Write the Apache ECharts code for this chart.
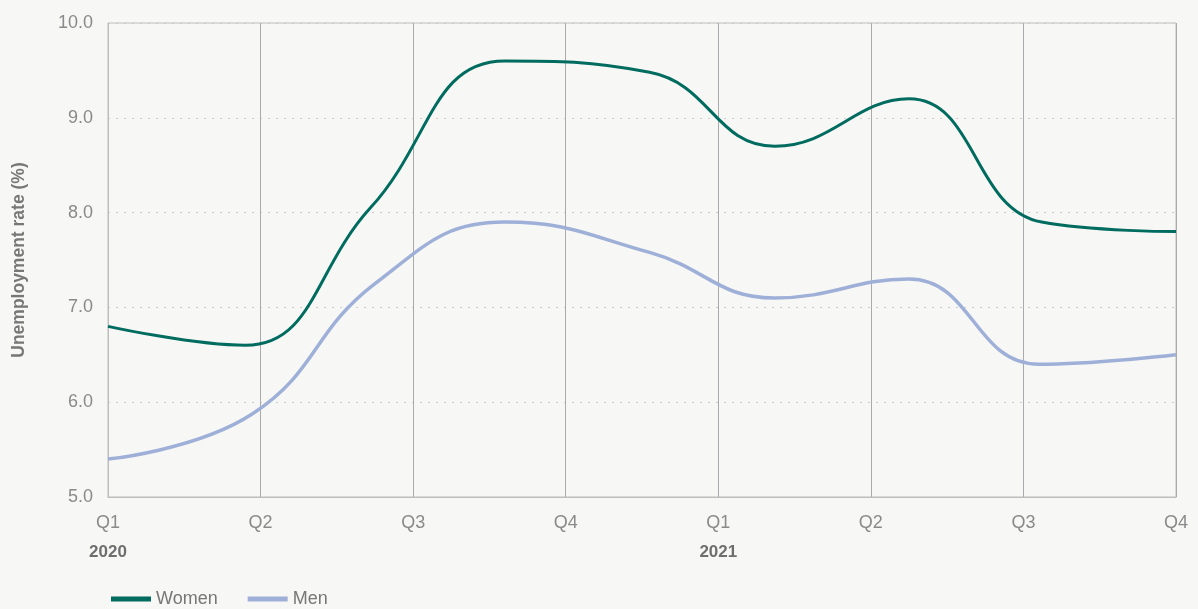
<!DOCTYPE html>
<html><head><meta charset="utf-8">
<script src="https://cdn.jsdelivr.net/npm/echarts@6/dist/echarts.min.js"></script>
<style>html,body{margin:0;padding:0;background:#f7f7f5;}#c{width:1198px;height:609px;}</style>
</head><body><div id="c"></div>
<script>
const quarterLabels = ['Q1','Q2','Q3','Q4','Q1','Q2','Q3','Q4'];
const yearLabels = ['2020','','','','2021','','',''];
// x in quarters from Q1 2020
const womenX = [0, 0.9, 1.72, 2.6, 3.55, 4.37, 5.25, 6.12, 7.0];
const womenY = [6.8, 6.6, 8.05, 9.6, 9.48, 8.7, 9.2, 7.9, 7.8];
const menX = [0, 0.95, 1.75, 2.6, 3.55, 4.37, 5.25, 6.1, 7.0];
const menY = [5.4, 5.88, 7.25, 7.9, 7.58, 7.1, 7.3, 6.4, 6.5];

const chart = echarts.init(document.getElementById('c'));
const font = 'Liberation Sans, Arial, sans-serif';
chart.setOption({
  backgroundColor: '#f7f7f5',
  animation: false,
  textStyle: { fontFamily: font },
  grid: { left: 108, right: 22, top: 23, bottom: 112, show: true, borderColor: '#bdbdbd', borderWidth: 1, backgroundColor: 'transparent' },
  legend: {
    left: 106, bottom: -4, itemWidth: 40, itemHeight: 5, itemGap: 30, icon: 'rect',
    textStyle: { color: '#777', fontSize: 18, fontFamily: font },
    data: ['Women', 'Men']
  },
  xAxis: {
    type: 'value', min: 0, max: 7, interval: 1,
    axisLine: { show: true, lineStyle: { color: '#bdbdbd' } },
    axisTick: { show: false },
    splitLine: { show: true, lineStyle: { color: '#aaaaaa', width: 1 } },
    axisLabel: {
      margin: 12,
      formatter: function (v) {
        const i = Math.round(v);
        const q = quarterLabels[i] || '';
        const y = yearLabels[i];
        return '{q|' + q + '}\n{y|' + (y || ' ') + '}';
      },
      rich: {
        q: { color: '#8a8a8a', fontSize: 18, fontFamily: font, lineHeight: 29 },
        y: { color: '#6e6e6e', fontSize: 17, fontWeight: 'bold', fontFamily: font, lineHeight: 29 }
      }
    }
  },
  yAxis: {
    type: 'value', min: 5, max: 10, interval: 1,
    name: 'Unemployment rate (%)', nameLocation: 'middle', nameGap: 80,
    nameTextStyle: { color: '#777', fontSize: 17.5, fontWeight: 'bold', fontFamily: font },
    axisLine: { show: true, lineStyle: { color: '#bdbdbd' } },
    axisTick: { show: false },
    axisLabel: { color: '#8a8a8a', fontSize: 18, margin: 15, formatter: v => v.toFixed(1) },
    splitLine: { show: true, lineStyle: { color: '#cccccc', type: [2, 6], width: 1 } }
  },
  series: [
    {
      name: 'Women', type: 'line', smooth: 0.45, symbol: 'none',
      lineStyle: { color: '#006b5f', width: 3 }, itemStyle: { color: '#006b5f' },
      data: womenX.map((x, i) => [x, womenY[i]])
    },
    {
      name: 'Men', type: 'line', smooth: 0.45, symbol: 'none',
      lineStyle: { color: '#9fb0d8', width: 3.5 }, itemStyle: { color: '#9fb0d8' },
      data: menX.map((x, i) => [x, menY[i]])
    }
  ]
});
</script></body></html>
